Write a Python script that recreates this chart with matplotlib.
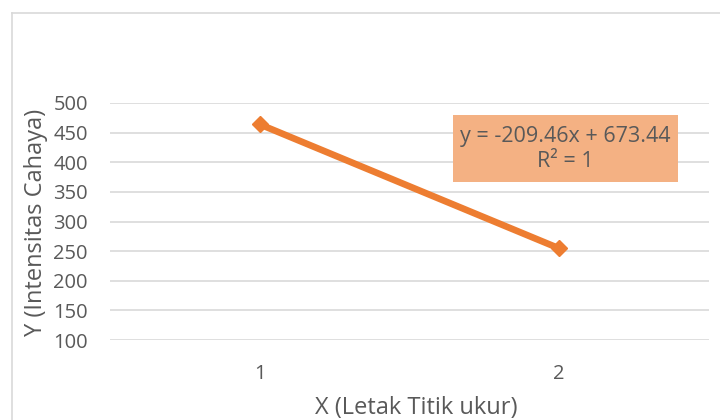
import matplotlib
matplotlib.use("Agg")
import matplotlib.pyplot as plt
from matplotlib.lines import Line2D

plt.rcParams['font.family'] = ['Open Sans', 'DejaVu Sans']

categories = ["1", "2"]
intensity = [463.98, 254.52]
y_ticks = [100, 150, 200, 250, 300, 350, 400, 450, 500]
equation_text = "y = -209.46x + 673.44\nR² = 1"

W, H = 720, 420
fig = plt.figure(figsize=(W / 100, H / 100), dpi=100)
fig.patch.set_facecolor("white")

# outer chart frame (top and left edges)
fig.add_artist(Line2D([12 / W, 12 / W], [0, 1 - 13 / H], color="#D9D9D9", lw=1.2, transform=fig.transFigure))
fig.add_artist(Line2D([12 / W, 1], [1 - 13 / H, 1 - 13 / H], color="#D9D9D9", lw=1.2, transform=fig.transFigure))

left, right, top, bottom = 110, 709, 103, 340
ax = fig.add_axes([left / W, 1 - bottom / H, (right - left) / W, (bottom - top) / H])
ax.set_facecolor("none")

x = list(range(len(categories)))
ax.plot(x, intensity, color="#ED7D31", lw=4.8, marker="D", markersize=8,
        markerfacecolor="#ED7D31", markeredgecolor="#ED7D31", solid_capstyle="butt", zorder=3)

ax.set_xlim(-0.5, len(categories) - 0.5)
ax.set_ylim(100, 500)
ax.set_yticks(y_ticks)
ax.set_xticks(x)
ax.set_xticklabels(categories)
ax.grid(axis="y", color="#D9D9D9", lw=1.2)
ax.set_axisbelow(True)
for s in ax.spines.values():
    s.set_visible(False)
ax.tick_params(length=0, labelsize=14.5, colors="#595959")
ax.tick_params(axis="y", pad=16)
ax.tick_params(axis="x", pad=17)

ax.set_xlabel("X (Letak Titik ukur)", fontsize=17, color="#595959", va="center")
ax.xaxis.set_label_coords((416 - left) / (right - left), (bottom - 408) / (bottom - top))
ax.set_ylabel("Y (Intensitas Cahaya)", fontsize=17, color="#595959", va="center")
ax.yaxis.set_label_coords((36 - left) / (right - left), (bottom - 222) / (bottom - top))

# trendline equation label
box = plt.Rectangle((453 / W, 1 - 182 / H), 225 / W, 67 / H, transform=fig.transFigure,
                    facecolor="#F4B183", edgecolor="none", zorder=2)
fig.add_artist(box)
fig.text(565 / W, 1 - 149 / H, equation_text, ha="center", va="center", fontsize=15.5,
         color="#595959", linespacing=1.25, zorder=4)

fig.savefig("out.png", dpi=100)
